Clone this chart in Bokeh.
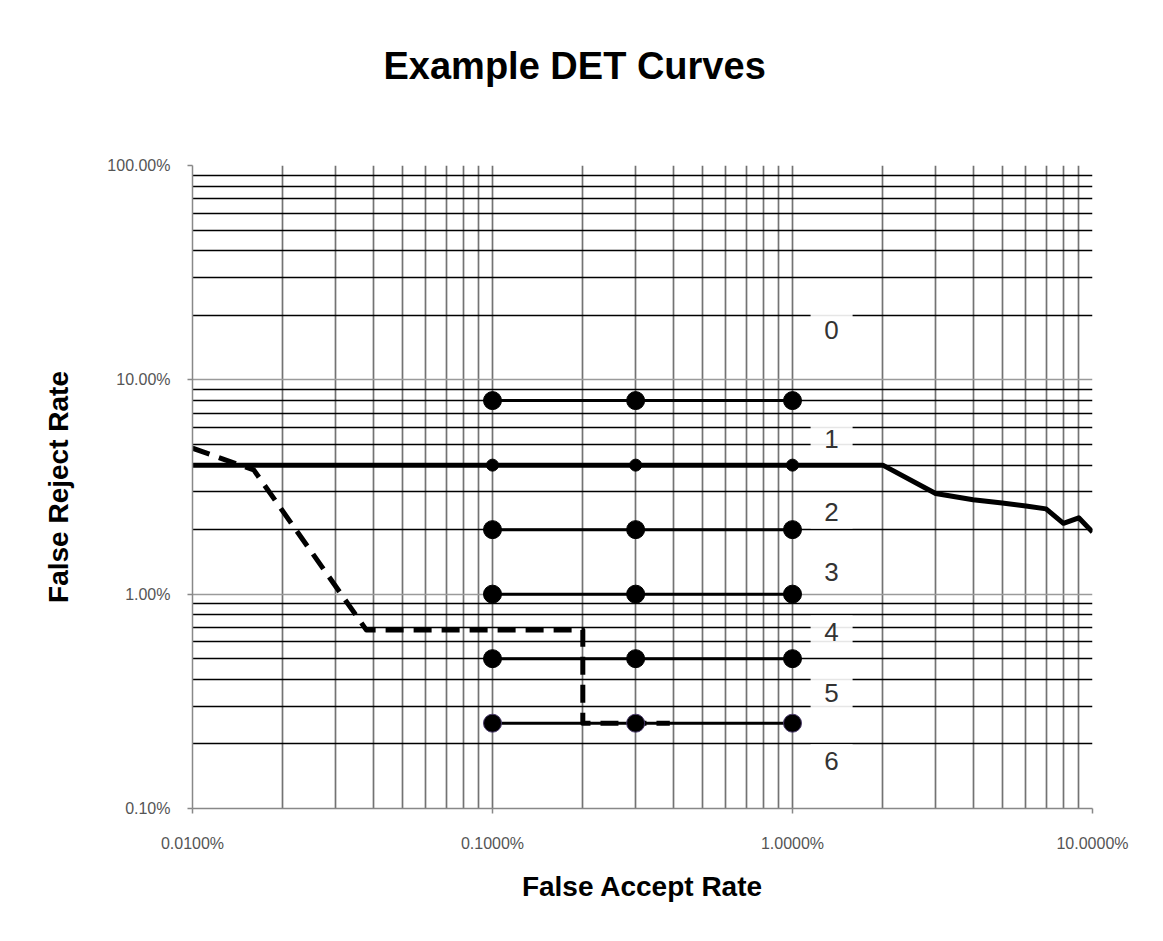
from bokeh.plotting import figure
from bokeh.models import FixedTicker, Range1d, Title, InlineStyleSheet
from bokeh.core.properties import value
from bokeh.embed import file_html
from bokeh.resources import INLINE

# ---------------- data ----------------
title_text = "Example DET Curves"
x_label = "False Accept Rate"
y_label = "False Reject Rate"

x_ticks = [0.0001, 0.001, 0.01, 0.1]
x_tick_labels = ["0.0100%", "0.1000%", "1.0000%", "10.0000%"]
y_ticks = [0.001, 0.01, 0.1, 1.0]
y_tick_labels = ["0.10%", "1.00%", "10.00%", "100.00%"]

# horizontal example rows (operating points)
row_far = [0.001, 0.003, 0.01]
row_frr = [0.08, 0.04, 0.02, 0.01, 0.005, 0.0025]

# numbered labels 0..6
label_names = ["0", "1", "2", "3", "4", "5", "6"]
label_frr = [0.17, 0.053, 0.0243, 0.0127, 0.00663, 0.00344, 0.00166]
label_far = [0.0135] * 7

# solid DET curve
solid_far = [0.0001, 0.02, 0.03, 0.04, 0.05, 0.06, 0.07, 0.08, 0.09, 0.1]
solid_frr = [0.04, 0.04, 0.0295, 0.0276, 0.0266, 0.0258, 0.025, 0.0214, 0.0227, 0.0195]

# dashed DET curve
dashed_far = [0.0001, 0.00016, 0.00038, 0.002, 0.002, 0.0039]
dashed_frr = [0.048, 0.038, 0.0068, 0.0068, 0.0025, 0.0025]

# ---------------- styles ----------------
FONT = "Liberation Sans"
row_marker_sizes = [18, 12, 18, 18, 18, 18]
row_marker_outline = ["black", "black", "black", "black", "black", "#4a3a6a"]

p = figure(width=1162, height=938,
           x_axis_type="log", y_axis_type="log",
           x_range=Range1d(x_ticks[0], x_ticks[-1]),
           y_range=Range1d(y_ticks[0], y_ticks[-1]),
           output_backend="svg", toolbar_location=None,
           min_border_left=192, min_border_right=70,
           min_border_top=165, min_border_bottom=130)

p.outline_line_color = None
p.background_fill_color = "white"
p.border_fill_color = "white"
p.stylesheets = [InlineStyleSheet(css=":host { outline: 1px solid #a8a8a8; outline-offset: -3px; }")]

# main title (outermost "above" item), left-aligned with an offset so that it
# is centred over the whole chart area rather than over the plot frame
p.title = Title(text=title_text, align="left", offset=191, standoff=20,
                vertical_align="bottom",
                text_font=FONT, text_font_size="38px",
                text_font_style="bold", text_color="black")
# invisible spacer between the title and the frame
p.add_layout(Title(text=" ", text_font_size="10px", standoff=56,
                   text_color="white"), "above")

minor_x = [m * 10.0 ** e for e in range(-4, -1) for m in range(2, 10)]
minor_y = [m * 10.0 ** e for e in range(-3, 0) for m in range(2, 10)]
p.xaxis.ticker = FixedTicker(ticks=x_ticks, minor_ticks=minor_x)
p.yaxis.ticker = FixedTicker(ticks=y_ticks, minor_ticks=minor_y)
p.xaxis.major_label_overrides = dict(zip(x_ticks, x_tick_labels))
p.yaxis.major_label_overrides = dict(zip(y_ticks, y_tick_labels))

for ax in (p.xaxis, p.yaxis):
    ax.axis_line_color = "#888888"
    ax.axis_line_width = 1.5
    ax.major_tick_line_color = "#888888"
    ax.major_tick_line_width = 1.5
    ax.major_tick_out = 5
    ax.major_tick_in = 0
    ax.minor_tick_line_color = None
    ax.major_label_text_font = FONT
    ax.major_label_text_font_size = "16px"
    ax.major_label_text_color = "#555555"
    ax.axis_label_text_font = FONT
    ax.axis_label_text_font_size = "28px"
    ax.axis_label_text_font_style = "bold"
    ax.axis_label_text_color = "black"

p.xaxis.axis_label = x_label
p.yaxis.axis_label = y_label
p.xaxis.major_label_standoff = 21
p.yaxis.major_label_standoff = 17
p.xaxis.axis_label_standoff = 16
p.yaxis.axis_label_standoff = 30

p.xgrid.grid_line_color = "#737373"
p.xgrid.grid_line_width = 1.7
p.xgrid.minor_grid_line_color = "#737373"
p.xgrid.minor_grid_line_width = 1.7
p.ygrid.grid_line_color = "#9a9a9a"
p.ygrid.grid_line_width = 1.4
p.ygrid.minor_grid_line_color = "black"
p.ygrid.minor_grid_line_width = 1.7

# white label boxes and numbers
p.rect(x=label_far, y=label_frr, width=42, height=34,
       width_units="screen", height_units="screen",
       fill_color="white", fill_alpha=0.9, line_color=None)
p.text(x=label_far, y=label_frr, text=label_names,
       text_align="center", text_baseline="middle",
       text_font=value(FONT), text_font_size="26px", text_color="#333333")

# curves
p.line(solid_far, solid_frr, line_width=5, line_color="black", line_join="round")
p.line(dashed_far, dashed_frr, line_width=5, line_color="black",
       line_dash="18 10", line_join="round")

# rows
for v, sz, oc in zip(row_frr, row_marker_sizes, row_marker_outline):
    ys = [v] * len(row_far)
    p.line(row_far, ys, line_width=3, line_color="black")
    p.scatter(row_far, ys, size=sz, marker="circle",
              fill_color="black", line_color=oc, line_width=1)

open("out.html", "w").write(file_html(p, INLINE))
